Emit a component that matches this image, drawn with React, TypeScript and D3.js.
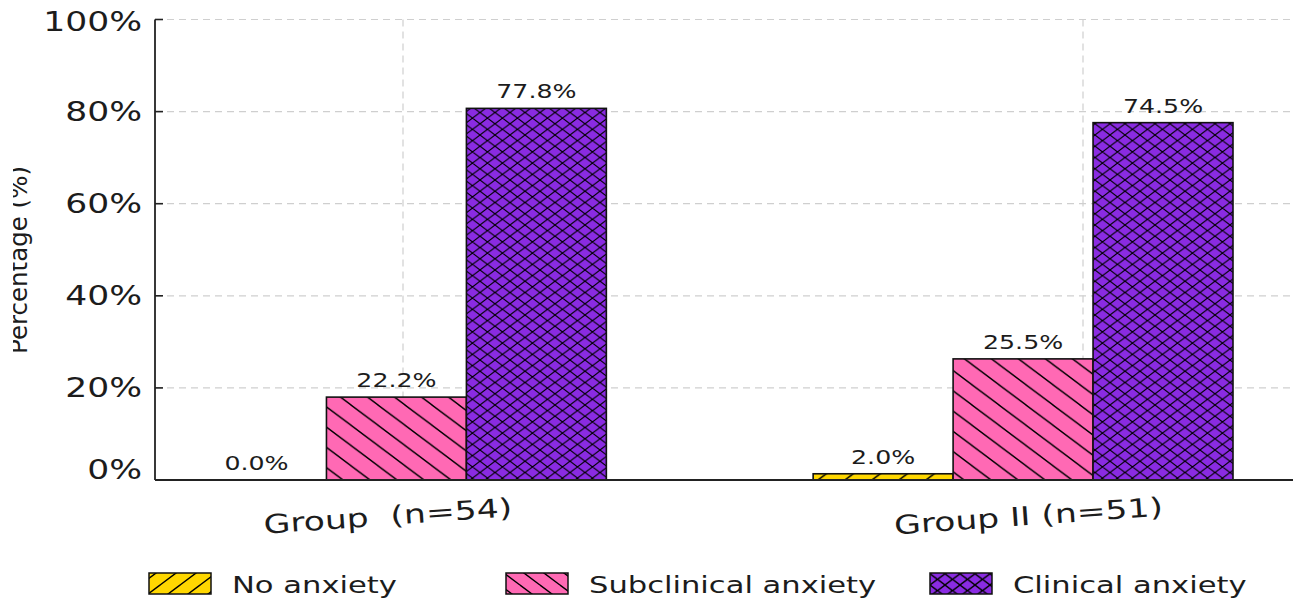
import React from "react";
import * as d3 from "d3";

// ---------- data ----------
const groups = ["Group  (n=54)", "Group II (n=51)"];
const series = ["No anxiety", "Subclinical anxiety", "Clinical anxiety"];
// bar heights as drawn in the picture (percent)
const barHeightsGroup1 = [0, 18.0, 80.7];
const barHeightsGroup2 = [1.35, 26.3, 77.6];
// value labels printed above the bars (percent)
const labelValuesGroup1 = [0.0, 22.2, 77.8];
const labelValuesGroup2 = [2.0, 25.5, 74.5];
const yTicks = [0, 20, 40, 60, 80, 100];
const colors = ["#FFD700", "#FF69B4", "#8A2BE2"];
const hatches = ["/", "\\", "x"];

const W = 1295;
const H = 604;
const SX = 1.33; // horizontal stretch of text in the picture
const FONT = "DejaVu Sans";
const INK = "#1c1c1c";

const rows = groups.map((g, gi) => ({
  group: g,
  heights: gi === 0 ? barHeightsGroup1 : barHeightsGroup2,
  labels: gi === 0 ? labelValuesGroup1 : labelValuesGroup2,
}));

function hatchPath(kind: string, w: number, h: number) {
  const fwd = `M0,${h} L${w},0 M${-w / 2},${h / 2} L${w / 2},${-h / 2} M${w / 2},${1.5 * h} L${1.5 * w},${h / 2}`;
  const back = `M0,0 L${w},${h} M${-w / 2},${h / 2} L${w / 2},${1.5 * h} M${w / 2},${-h / 2} L${1.5 * w},${h / 2}`;
  if (kind === "/") return fwd;
  if (kind === "\\") return back;
  return fwd + " " + back;
}

function Pattern({ id, kind, color, w, lw }: any) {
  const h = w * 0.75;
  return (
    <pattern id={id} patternUnits="userSpaceOnUse" width={w} height={h}>
      <rect width={w} height={h} fill={color} />
      <path d={hatchPath(kind, w, h)} stroke="#000" strokeWidth={lw} fill="none" />
    </pattern>
  );
}

function T({ x, y, size, anchor = "middle", rotate = 0, stretch = SX, children, baseline }: any) {
  return (
    <text
      transform={`translate(${x},${y}) rotate(${rotate}) scale(${stretch},1)`}
      fontSize={size}
      fontFamily={FONT}
      textAnchor={anchor}
      dominantBaseline={baseline}
      fill={INK}
      style={{ whiteSpace: "pre" }}
    >
      {children}
    </text>
  );
}

export default function App() {
  const left = 155;
  const right = 1293;
  const y = d3.scaleLinear().domain([0, 100]).range([480, 19.5]);
  const x0 = d3.scaleBand<string>().domain(groups).range([186.5, 1233]).paddingInner(0.33).paddingOuter(0);
  const x1 = d3.scaleBand<string>().domain(series).range([0, x0.bandwidth()]);
  const xGrid = d3.scalePoint<string>().domain(groups).range([403, 1083]);

  const legendX = [149, 506, 930];

  return (
    <svg
      width={W}
      height={H}
      style={{ position: "absolute", left: 0, top: 0, background: "#fff" }}
    >
      <defs>
        {series.map((s, i) => (
          <Pattern key={s} id={`hatch${i}`} kind={hatches[i]} color={colors[i]} w={i === 2 ? 15 : 27} lw={i === 2 ? 1.1 : 1.4} />
        ))}
        {series.map((s, i) => (
          <Pattern key={s} id={`lhatch${i}`} kind={hatches[i]} color={colors[i]} w={i === 2 ? 15 : 20} lw={1.4} />
        ))}
      </defs>

      {/* grid */}
      {yTicks.map((t) => (
        <line key={t} x1={left} x2={right} y1={y(t)} y2={y(t)} stroke="#cfcfcf" strokeWidth={1.2} strokeDasharray="7,5" />
      ))}
      {groups.map((g) => (
        <line key={g} x1={xGrid(g)} x2={xGrid(g)} y1={y(100)} y2={y(0)} stroke="#cfcfcf" strokeWidth={1.2} strokeDasharray="7,5" />
      ))}

      {/* bars */}
      {rows.map((r) =>
        series.map((s, si) => {
          const bx = (x0(r.group) as number) + (x1(s) as number);
          const v = r.heights[si];
          return (
            <rect
              key={r.group + s}
              x={bx}
              y={y(v)}
              width={x1.bandwidth()}
              height={y(0) - y(v)}
              fill={`url(#hatch${si})`}
              stroke="#111"
              strokeWidth={1.6}
            />
          );
        })
      )}

      {/* value labels */}
      {rows.map((r) =>
        series.map((s, si) => {
          const cx = (x0(r.group) as number) + (x1(s) as number) + x1.bandwidth() / 2;
          return (
            <T key={"l" + r.group + s} x={cx} y={y(r.heights[si]) - 10} size={19}>
              {r.labels[si].toFixed(1) + "%"}
            </T>
          );
        })
      )}

      {/* axes */}
      <line x1={left} x2={left} y1={y(100)} y2={y(0)} stroke="#222" strokeWidth={1.8} />
      <line x1={left} x2={right} y1={y(0)} y2={y(0)} stroke="#222" strokeWidth={1.8} />
      {yTicks.map((t) => (
        <g key={"t" + t}>
          <line x1={left} x2={left + 8} y1={y(t)} y2={y(t)} stroke="#222" strokeWidth={1.6} />
          <T x={142} y={y(t) + (t === 0 ? -10 : t === 100 ? 3 : 0)} size={26} anchor="end" baseline="central">
            {t + "%"}
          </T>
        </g>
      ))}

      {/* group labels */}
      {groups.map((g) => (
        <T key={"g" + g} x={(x0(g) as number) + x0.bandwidth() / 2 + (g === groups[0] ? -8 : 6)} y={525} size={26} rotate={-4}>
          {g}
        </T>
      ))}

      {/* y axis title (cut off at the left edge) */}
      <T x={27} y={260} size={24.5} rotate={-90} stretch={1}>
        Percentage (%)
      </T>
      <rect x={0} y={0} width={13} height={H} fill="#fff" />

      {/* legend */}
      {series.map((s, i) => (
        <g key={"lg" + s}>
          <rect x={legendX[i]} y={573} width={62} height={21} fill={`url(#lhatch${i})`} stroke="#111" strokeWidth={1.5} />
          <T x={legendX[i] + 83} y={593} size={23} anchor="start">
            {s}
          </T>
        </g>
      ))}
    </svg>
  );
}
